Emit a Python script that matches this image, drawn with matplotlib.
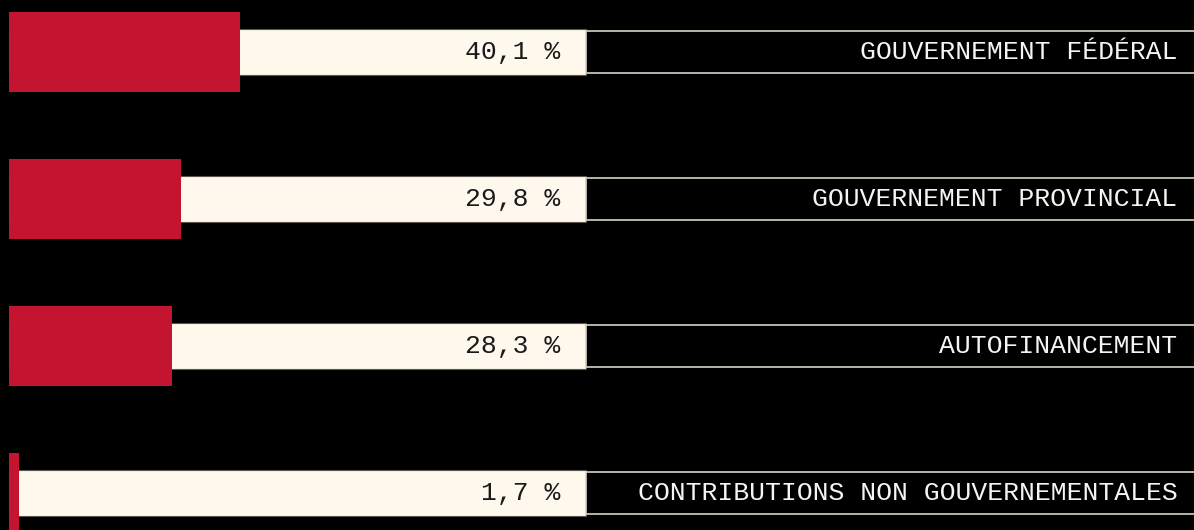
import matplotlib.pyplot as plt

# données
categories = ["GOUVERNEMENT FÉDÉRAL", "GOUVERNEMENT PROVINCIAL",
              "AUTOFINANCEMENT", "CONTRIBUTIONS NON GOUVERNEMENTALES"]
valeurs = [40.1, 29.8, 28.3, 1.7]
etiquettes = ["40,1 %", "29,8 %", "28,3 %", "1,7 %"]

rouge = "#c41530"
creme = "#fff8ec"
ligne = "#d9d2c6"

fig = plt.figure(figsize=(11.94, 5.30), dpi=100, facecolor="black")
ax = fig.add_axes([0, 0, 1, 1])
ax.set_facecolor("black")

px = 577 / 100.0  # pixels par %
x_gauche = -9 / px
x_droite = (1194 - 9) / px
ax.set_xlim(x_gauche, x_droite)
ax.set_ylim((530 - 52) / 147.0, -52 / 147.0)

y = list(range(len(categories)))

# fond crème (100 %)
ax.barh(y, [100] * len(y), height=0.313, color=creme, edgecolor="#5a5550",
        linewidth=0.8, zorder=1)
# cases des libellés
ax.barh(y, [x_droite - 100 + 1] * len(y), left=100, height=0.29,
        color="black", edgecolor=ligne, linewidth=1.2, zorder=1)
# barres rouges
ax.barh(y, valeurs, height=0.544, color=rouge, zorder=2)

for i in y:
    ax.text(95.6, i, etiquettes[i], ha="right", va="center",
            family="Liberation Mono", fontsize=19, color="#1a1a1a", zorder=3)
    ax.text(202.5, i, categories[i], ha="right", va="center",
            family="Liberation Mono", fontsize=19, color="#f4f4f4", zorder=3)

ax.axis("off")
fig.savefig("out.png", dpi=100, facecolor="black")
